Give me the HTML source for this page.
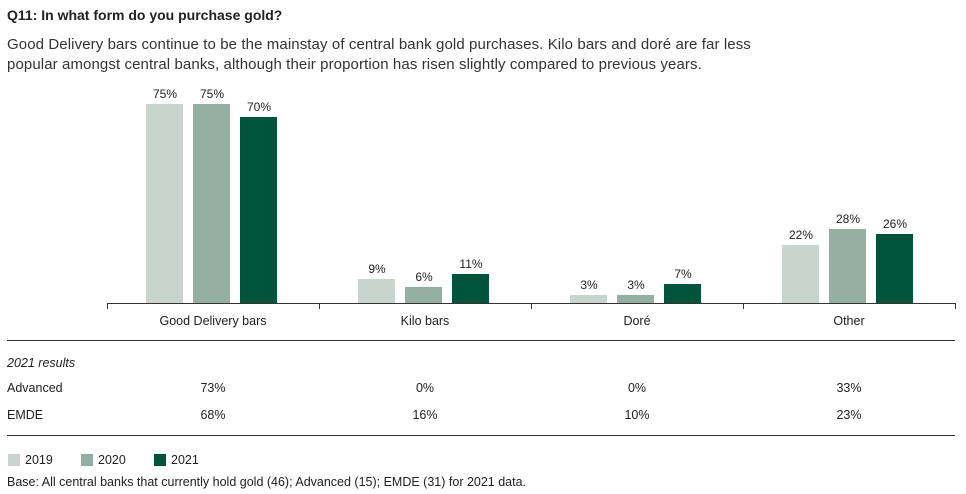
<!DOCTYPE html><html><head><style>
body{margin:0;width:966px;height:494px;background:#fff;font-family:"Liberation Sans",sans-serif;color:#222;position:relative;overflow:hidden}
.a{position:absolute;white-space:nowrap}
.b{position:absolute;width:37px}
.l{position:absolute;font-size:12px;width:60px;text-align:center}
.c{position:absolute;font-size:12.5px;width:212px;text-align:center}
</style></head><body>
<div class="a" style="left:7px;top:7px;font-size:14px;font-weight:bold">Q11: In what form do you purchase gold?</div>
<div class="a" style="left:7px;top:35px;font-size:15px;line-height:20px;color:#333;letter-spacing:0.1px">Good Delivery bars continue to be the mainstay of central bank gold purchases. Kilo bars and doré are far less<br>popular amongst central banks, although their proportion has risen slightly compared to previous years.</div>
<div id="ch"></div>
<div class="a" style="left:107px;top:303px;width:848px;height:1px;background:#333"></div>
<div class="a" style="left:7px;top:340px;width:948px;height:1px;background:#333"></div>
<div class="a" style="left:7px;top:435px;width:948px;height:1px;background:#333"></div>
<div class="a" style="left:7px;top:356px;font-size:12.5px;font-style:italic">2021 results</div>
<div class="a" style="left:7px;top:381px;font-size:12.5px">Advanced</div>
<div class="a" style="left:7px;top:408px;font-size:12.5px">EMDE</div>
<div class="a" style="left:8px;top:454px;width:12px;height:12px;background:#c8d5ce"></div>
<div class="a" style="left:25px;top:453px;font-size:12.5px">2019</div>
<div class="a" style="left:81px;top:454px;width:12px;height:12px;background:#93afa2"></div>
<div class="a" style="left:98px;top:453px;font-size:12.5px">2020</div>
<div class="a" style="left:154px;top:454px;width:12px;height:12px;background:#00543c"></div>
<div class="a" style="left:171px;top:453px;font-size:12.5px">2021</div>
<div class="a" style="left:7px;top:475px;font-size:12.5px">Base: All central banks that currently hold gold (46); Advanced (15); EMDE (31) for 2021 data.</div>
<script>
var d=[["Good Delivery bars",[75,75,70],"73%","68%"],["Kilo bars",[9,6,11],"0%","16%"],["Doré",[3,3,7],"0%","10%"],["Other",[22,28,26],"33%","23%"]];
var col=["#c8d5ce","#93afa2","#00543c"],off=[-67,-20,27],h="";
for(var i=0;i<4;i++){var x0=107+212*i,cx=x0+106;
h+='<div class="a" style="left:'+x0+'px;top:303px;width:1px;height:6px;background:#333"></div>';
d[i][1].forEach(function(v,j){var ht=Math.round(v*2.653),l=cx+off[j];
h+='<div class="b" style="left:'+l+'px;top:'+(303-ht)+'px;height:'+ht+'px;background:'+col[j]+'"></div>';
h+='<div class="l" style="left:'+(l-11)+'px;top:'+(303-ht-17)+'px">'+v+'%</div>';});
h+='<div class="c" style="left:'+x0+'px;top:314px">'+d[i][0]+'</div>';
h+='<div class="c" style="left:'+x0+'px;top:381px">'+d[i][2]+'</div>';
h+='<div class="c" style="left:'+x0+'px;top:408px">'+d[i][3]+'</div>';}
h+='<div class="a" style="left:955px;top:303px;width:1px;height:6px;background:#333"></div>';
document.getElementById("ch").innerHTML=h;
</script>
</body></html>
